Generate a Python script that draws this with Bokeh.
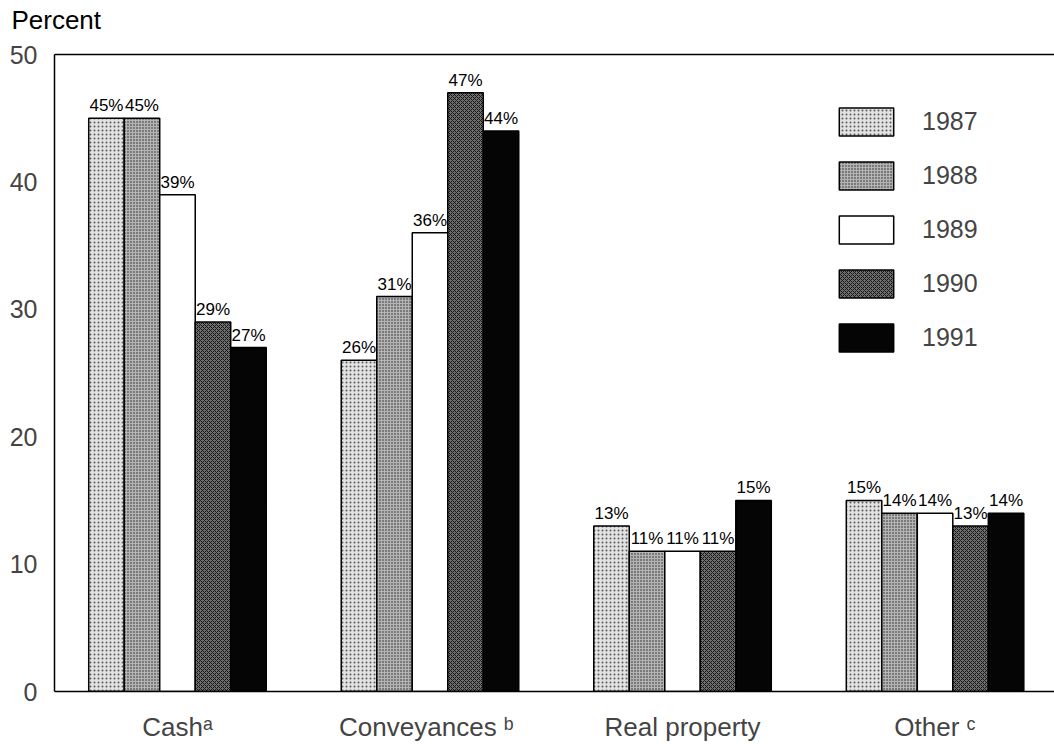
import numpy as np
from bokeh.plotting import figure
from bokeh.models import (ColumnDataSource, FixedTicker, Legend, LegendItem, Range1d,
                          LinearAxis, CustomJSTickFormatter)
from bokeh.core.properties import value
from bokeh.embed import file_html
from bokeh.resources import INLINE

categories = ["Cash", "Conveyances", "Real property", "Other"]
category_labels = ["Cash\u1d43", "Conveyances  \u1d47", "Real property", "Other \u1d9c"]
years = ["1987", "1988", "1989", "1990", "1991"]
values = {
    "1987": [45, 26, 13, 15],
    "1988": [45, 31, 11, 14],
    "1989": [39, 36, 11, 14],
    "1990": [29, 47, 11, 13],
    "1991": [27, 44, 15, 14],
}
y_ticks = [0, 10, 20, 30, 40, 50]
y_title = "Percent"

FONT = "Liberation Sans"
styles = {
    "1987": dict(fill_color="#e2e2e2", hatch_pattern="dot", hatch_color="#5a5a5a", hatch_scale=4, hatch_weight=1),
    "1988": dict(fill_color="#b4b4b4", hatch_pattern="dot", hatch_color="#222222", hatch_scale=3, hatch_weight=1),
    "1989": dict(fill_color="white"),
    "1990": dict(fill_color="#6e6e6e", hatch_pattern="diagonal_cross", hatch_color="#161616", hatch_scale=4, hatch_weight=1),
    "1991": dict(fill_color="#050505"),
}

W, H = 1054, 744
p = figure(width=W, height=H, output_backend="svg", toolbar_location=None,
           x_range=Range1d(-0.487, 3.473), y_range=Range1d(0, 50),
           min_border_left=54, min_border_right=0, min_border_top=54, min_border_bottom=51)
p.outline_line_color = None
p.xgrid.grid_line_color = None
p.ygrid.grid_line_color = None
p.background_fill_color = "white"

bar_w = 0.1406
idx = np.arange(len(categories))
items = []
for j, yr in enumerate(years):
    xs = idx + (j - 2) * bar_w
    vals = values[yr]
    src = ColumnDataSource(dict(x=xs, top=vals, lab=[f"{v}%" for v in vals]))
    r = p.vbar(x="x", top="top", bottom=0, width=bar_w, source=src,
               line_color="black", line_width=1.5, **styles[yr])
    p.text(x="x", y="top", text="lab", source=src, text_align="center",
           text_baseline="bottom", y_offset=-3, text_font=value(FONT),
           text_font_size="17px", text_color="black")
    items.append(LegendItem(label=yr, renderers=[r]))

# bottom (category) axis, configured before any other x axis exists
bottom = p.below[0]
bottom.ticker = FixedTicker(ticks=[int(i) for i in idx])
bottom.major_label_overrides = {int(i): lab for i, lab in zip(idx, category_labels)}
bottom.major_tick_line_color = None
bottom.minor_tick_line_color = None
bottom.axis_line_color = "black"
bottom.axis_line_width = 1.5
bottom.major_label_text_font = FONT
bottom.major_label_text_font_size = "26px"
bottom.major_label_standoff = 14

# left axis
left = p.left[0]
left.ticker = FixedTicker(ticks=y_ticks)
left.major_tick_line_color = None
left.minor_tick_line_color = None
left.axis_line_color = "black"
left.axis_line_width = 1.5
left.major_label_text_font = FONT
left.major_label_text_font_size = "25px"
left.major_label_standoff = 11

# top border line carrying the "Percent" caption at the upper-left corner
top_axis = LinearAxis(ticker=FixedTicker(ticks=[-0.48]),
                      formatter=CustomJSTickFormatter(code=f"return '{y_title}';"))
top_axis.major_tick_line_color = None
top_axis.minor_tick_line_color = None
top_axis.axis_line_color = "black"
top_axis.axis_line_width = 1.5
top_axis.major_label_text_font = FONT
top_axis.major_label_text_font_size = "26px"
top_axis.major_label_text_color = "black"
top_axis.major_label_standoff = 14
p.add_layout(top_axis, "above")

legend = Legend(items=items, location=(778, 336), orientation="vertical",
                glyph_width=68, glyph_height=35, label_height=35, spacing=19,
                label_standoff=22, padding=0, margin=0,
                label_text_font=FONT, label_text_font_size="25px",
                border_line_color=None, background_fill_alpha=0)
p.add_layout(legend, "center")

open("out.html", "w").write(file_html(p, INLINE))
